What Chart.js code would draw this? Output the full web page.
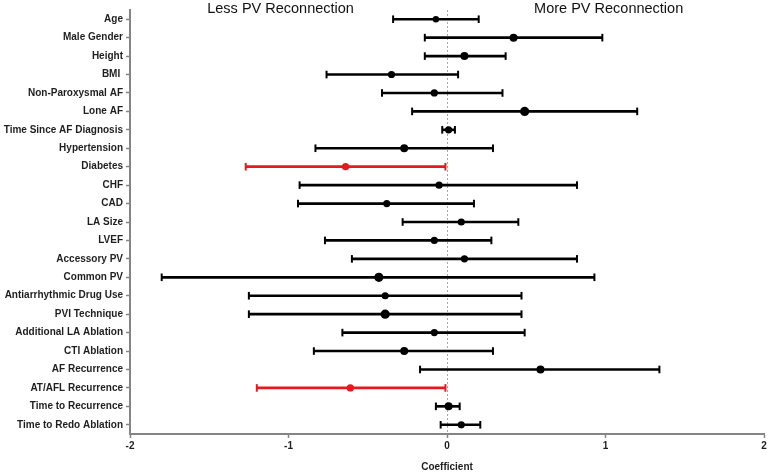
<!DOCTYPE html>
<html><head><meta charset="utf-8">
<script src="https://cdn.jsdelivr.net/npm/chart.js@4.4.1/dist/chart.umd.min.js"></script>
<style>html,body{margin:0;padding:0;background:#fff;}#wrap{width:770px;height:473px;}</style>
</head><body><div id="wrap"><canvas id="c" width="770" height="473"></canvas></div>
<script>
const categories = ['Age','Male Gender','Height','BMI ','Non-Paroxysmal AF','Lone AF','Time Since AF Diagnosis','Hypertension','Diabetes','CHF','CAD','LA Size','LVEF','Accessory PV','Common PV','Antiarrhythmic Drug Use','PVI Technique','Additional LA Ablation','CTI Ablation','AF Recurrence','AT/AFL Recurrence','Time to Recurrence','Time to Redo Ablation'];
const estimates = [-0.07, 0.42, 0.11, -0.35, -0.08, 0.49, 0.01, -0.27, -0.64, -0.05, -0.38, 0.09, -0.08, 0.11, -0.43, -0.39, -0.39, -0.08, -0.27, 0.59, -0.61, 0.01, 0.09];
const lowerCI = [-0.34, -0.14, -0.14, -0.76, -0.41, -0.22, -0.03, -0.83, -1.27, -0.93, -0.94, -0.28, -0.77, -0.60, -1.80, -1.25, -1.25, -0.66, -0.84, -0.17, -1.20, -0.07, -0.04];
const upperCI = [0.20, 0.98, 0.37, 0.07, 0.35, 1.20, 0.05, 0.29, -0.01, 0.82, 0.17, 0.45, 0.28, 0.82, 0.93, 0.47, 0.47, 0.49, 0.29, 1.34, -0.01, 0.08, 0.21];
const xTickValues = [-2, -1, 0, 1, 2];
const headerLeft = 'Less PV Reconnection';
const headerRight = 'More PV Reconnection';
const axisTitle = 'Coefficient';

// ---- styles ----
const FONT = '"Liberation Sans", Arial, Helvetica, sans-serif';
const RED = '#e41a1c', BLACK = '#000000', AXIS = '#858585', TEXT = '#1e1e1e';
const colorFor = i => upperCI[i] < 0 ? RED : BLACK;
const bigDots = new Set(['Lone AF', 'Common PV', 'PVI Technique']);
const midDots = new Set(['Male Gender', 'Hypertension', 'CTI Ablation', 'AF Recurrence', 'Time to Recurrence', 'Height']);
const radiusFor = i => bigDots.has(categories[i]) ? 4.6 : (midDots.has(categories[i]) ? 4 : (i === 0 ? 3.2 : 3.6));

const barData = categories.map((c, i) => [lowerCI[i], upperCI[i]]);
const capData = [];
categories.forEach((c, i) => { capData.push({x: lowerCI[i], y: c}); capData.push({x: upperCI[i], y: c}); });
const dotData = categories.map((c, i) => ({x: estimates[i], y: c}));

const headerPlugin = {
  id: 'headers',
  afterDraw(chart) {
    const {ctx} = chart; const x = chart.scales.x;
    ctx.save();
    ctx.font = '14.5px ' + FONT;
    ctx.fillStyle = '#111';
    ctx.textAlign = 'center';
    ctx.textBaseline = 'alphabetic';
    ctx.fillText(headerLeft, x.getPixelForValue(-1.05), 13);
    ctx.fillText(headerRight, x.getPixelForValue(1.02), 13);
    ctx.restore();
  }
};

new Chart(document.getElementById('c'), {
  type: 'bar',
  data: {
    labels: categories,
    datasets: [
      { type: 'scatter', order: 0, data: dotData,
        pointRadius: ctx => radiusFor(ctx.dataIndex),
        pointBackgroundColor: ctx => colorFor(ctx.dataIndex),
        pointBorderColor: ctx => colorFor(ctx.dataIndex),
        pointBorderWidth: 0, pointStyle: 'circle' },
      { type: 'scatter', order: 1, data: capData,
        pointStyle: 'line', pointRotation: 90, pointRadius: 3.8,
        pointBorderWidth: 2,
        pointBorderColor: ctx => colorFor(ctx.dataIndex >> 1),
        pointBackgroundColor: ctx => colorFor(ctx.dataIndex >> 1) },
      { type: 'bar', order: 2, data: barData, barThickness: 2, borderWidth: 0,
        backgroundColor: ctx => colorFor(ctx.dataIndex) }
    ]
  },
  options: {
    indexAxis: 'y',
    responsive: false,
    animation: false,
    devicePixelRatio: 1,
    layout: { padding: { top: 10, right: 3.5, bottom: 0, left: 0 } },
    plugins: { legend: { display: false }, tooltip: { enabled: false } },
    scales: {
      x: {
        type: 'linear', position: 'bottom', min: -2, max: 2,
        afterBuildTicks: s => { s.ticks = xTickValues.map(v => ({value: v})); },
        afterFit: s => { s.height = 39; },
        grid: {
          color: ctx => (ctx.tick && ctx.tick.value === 0) ? '#a8a8a8' : 'rgba(0,0,0,0)',
          lineWidth: 1, drawTicks: true, tickLength: 4, tickColor: AXIS, tickWidth: 1.5
        },
        border: { display: true, color: AXIS, width: 2, dash: [2, 2] },
        ticks: { color: TEXT, padding: 2, font: { family: FONT, size: 10, weight: 'bold' } },
        title: { display: true, text: axisTitle, color: TEXT, padding: 0,
                 font: { family: FONT, size: 10, weight: 'bold' } }
      },
      y: {
        type: 'category', position: 'left', offset: true,
        afterFit: s => { s.width = 130; },
        grid: { offset: false, drawOnChartArea: false, drawTicks: true, tickLength: 4,
                tickColor: AXIS, tickWidth: 1.5, color: AXIS },
        border: { display: true, color: AXIS, width: 2 },
        ticks: { color: TEXT, padding: 3, autoSkip: false,
                 font: { family: FONT, size: 10, weight: 'bold' } }
      }
    }
  },
  plugins: [headerPlugin]
});
</script>
</body></html>
